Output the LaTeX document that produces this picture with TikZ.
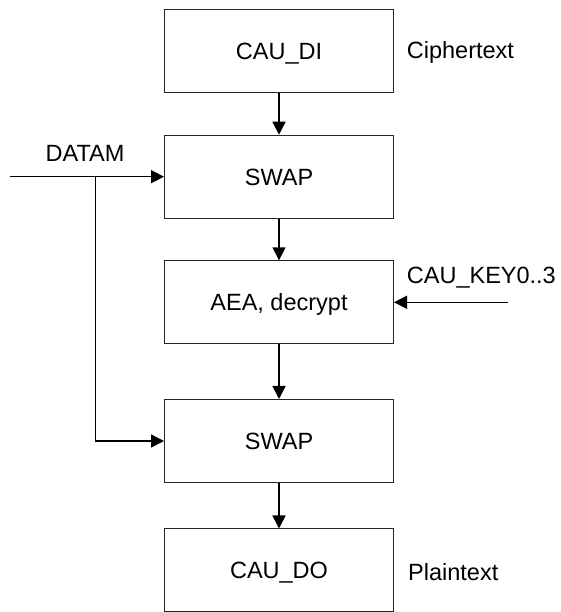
\documentclass[tikz,border=0pt]{standalone}
\usepackage{fontspec}
\setmainfont{Liberation Sans}
\usetikzlibrary{arrows.meta}
\begin{document}
\begin{tikzpicture}[x=1pt,y=1pt,
  blk/.style={draw=black!85,line width=1pt,minimum width=229pt,minimum height=83pt,inner sep=0pt,text height=16.8pt,text depth=0pt,font=\fontsize{23.5}{28}\selectfont},
  lbl/.style={inner sep=0pt,text height=16.8pt,text depth=0pt,font=\fontsize{23.5}{28}\selectfont},
  conn/.style={line width=1.5pt,-{Triangle[length=13pt,width=13pt]}}]
\useasboundingbox (0,0) rectangle (560,612);
\node[blk] (di) at (279,561.3) {CAU\_DI};
\node[blk] (sw1) at (279,435.3) {SWAP};
\node[blk] (aea) at (279,309.7) {AEA, decrypt};
\node[blk] (sw2) at (279,171) {SWAP};
\node[blk] (do) at (279,41.5) {CAU\_DO};
\node[lbl,anchor=west] (ct) at (406.7,561.7) {Ciphertext};
\node[lbl,anchor=west] (key) at (406.7,337) {CAU\_KEY0..3};
\node[lbl,anchor=west] (pt) at (408,40.3) {Plaintext};
\node[lbl] (datam) at (85,458.7) {DATAM};
\coordinate (in) at (10,435.3);
\coordinate (jn) at (95.7,435.3);
\coordinate (keyin) at (508,309.7);
\draw[conn] (di) -- (sw1);
\draw[conn] (sw1) -- (aea);
\draw[conn] (aea) -- (sw2);
\draw[conn] (sw2) -- (do);
\draw[conn] (in) -- (sw1.west);
\draw[conn] (jn) |- (sw2.west);
\draw[conn] (keyin) -- (aea.east);
\end{tikzpicture}
\end{document}
